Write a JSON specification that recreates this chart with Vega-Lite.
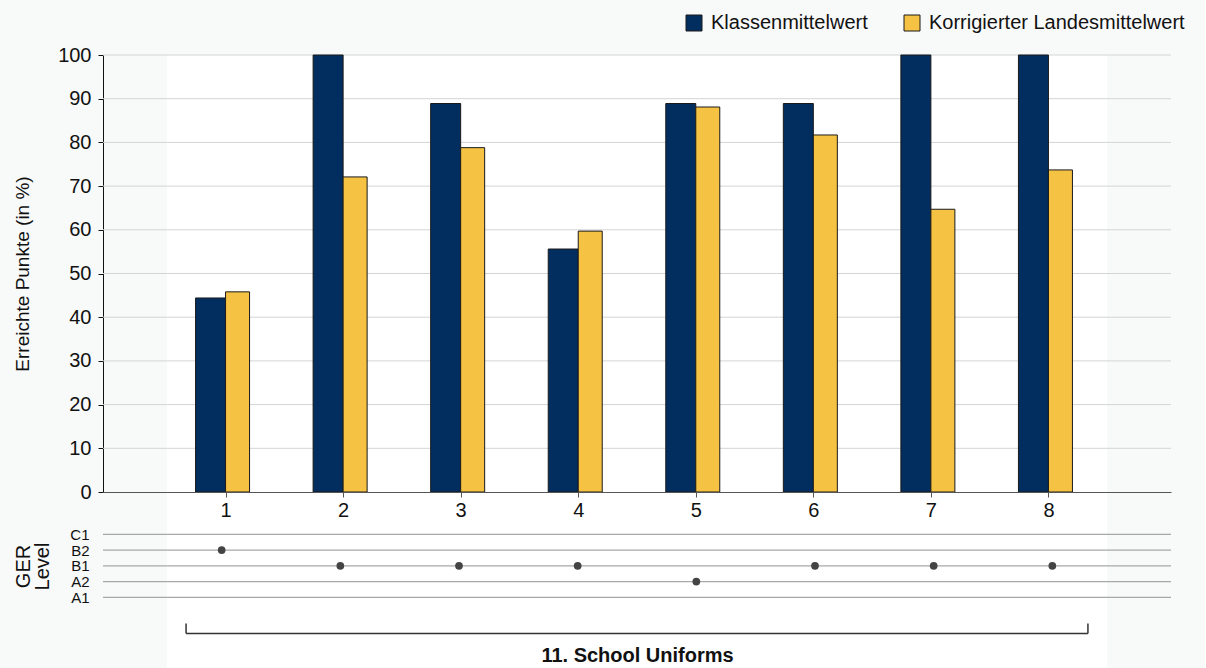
{
  "$schema": "https://vega.github.io/schema/vega-lite/v6.json",
  "background": "#f8f9f9",
  "padding": {"left": 13, "top": 13, "right": 20, "bottom": 0},
  "bounds": "flush",
  "spacing": 18.25,
  "config": {
    "font": "Liberation Sans",
    "view": {"stroke": null},
    "axis": {"labelColor": "#111", "titleColor": "#111", "titleFontWeight": "normal", "grid": false},
    "legend": {"labelColor": "#111"}
  },
  "datasets": {
    "scores": [
      {"q": 1, "series": "Klassenmittelwert", "score": 44.4},
      {"q": 1, "series": "Korrigierter Landesmittelwert", "score": 45.8},
      {"q": 2, "series": "Klassenmittelwert", "score": 100},
      {"q": 2, "series": "Korrigierter Landesmittelwert", "score": 72.1},
      {"q": 3, "series": "Klassenmittelwert", "score": 88.9},
      {"q": 3, "series": "Korrigierter Landesmittelwert", "score": 78.8},
      {"q": 4, "series": "Klassenmittelwert", "score": 55.6},
      {"q": 4, "series": "Korrigierter Landesmittelwert", "score": 59.7},
      {"q": 5, "series": "Klassenmittelwert", "score": 88.9},
      {"q": 5, "series": "Korrigierter Landesmittelwert", "score": 88.1},
      {"q": 6, "series": "Klassenmittelwert", "score": 88.9},
      {"q": 6, "series": "Korrigierter Landesmittelwert", "score": 81.7},
      {"q": 7, "series": "Klassenmittelwert", "score": 100},
      {"q": 7, "series": "Korrigierter Landesmittelwert", "score": 64.7},
      {"q": 8, "series": "Klassenmittelwert", "score": 100},
      {"q": 8, "series": "Korrigierter Landesmittelwert", "score": 73.7}
    ],
    "ger": [
      {"q": 1, "level": "B2"},
      {"q": 2, "level": "B1"},
      {"q": 3, "level": "B1"},
      {"q": 4, "level": "B1"},
      {"q": 5, "level": "A2"},
      {"q": 6, "level": "B1"},
      {"q": 7, "level": "B1"},
      {"q": 8, "level": "B1"}
    ],
    "levels": [
      {"level": "C1"}, {"level": "B2"}, {"level": "B1"}, {"level": "A2"}, {"level": "A1"}
    ],
    "grid": [
      {"score": 10}, {"score": 20}, {"score": 30}, {"score": 40}, {"score": 50},
      {"score": 60}, {"score": 70}, {"score": 80}, {"score": 90}, {"score": 100}
    ]
  },
  "vconcat": [
    {
      "width": 1068,
      "height": 437,
      "layer": [
        {
          "data": {"values": [{}]},
          "mark": {"type": "rect", "fill": "white"},
          "encoding": {
            "x": {"datum": 0.5, "type": "quantitative",
              "scale": {"domain": [0, 9], "nice": false, "zero": false},
              "axis": {"title": null, "values": [1, 2, 3, 4, 5, 6, 7, 8], "format": "d", "labelFontSize": 20, "tickSize": 5, "tickColor": "#555", "domainColor": "#555", "labelPadding": 3, "zindex": 1, "labelFlush": false}},
            "x2": {"datum": 8.5},
            "y": {"datum": 100, "type": "quantitative",
              "scale": {"domain": [0, 100], "nice": false, "zero": false},
              "axis": {"title": "Erreichte Punkte (in %)", "values": [0, 10, 20, 30, 40, 50, 60, 70, 80, 90, 100], "labelFontSize": 20, "titleFontSize": 19, "tickSize": 5, "tickColor": "#111", "domainColor": "#111", "labelPadding": 7, "titlePadding": 25}},
            "y2": {"datum": -40.2}
          }
        },
        {
          "data": {"name": "grid"},
          "mark": {"type": "rule", "color": "#d4d4d4", "strokeWidth": 1},
          "encoding": {"y": {"field": "score", "type": "quantitative"}}
        },
        {
          "data": {"name": "scores"},
          "transform": [{"filter": "datum.series === 'Klassenmittelwert'"}],
          "mark": {"type": "bar", "width": 30, "xOffset": -15, "stroke": "#1a1a1a", "strokeWidth": 1},
          "encoding": {
            "x": {"field": "q", "type": "quantitative"},
            "y": {"field": "score", "type": "quantitative"},
            "color": {"field": "series", "type": "nominal",
              "scale": {"domain": ["Klassenmittelwert", "Korrigierter Landesmittelwert"], "range": ["#022e5f", "#f5c244"]},
              "legend": {"title": null, "orient": "none", "direction": "horizontal", "legendX": 581, "legendY": -42, "symbolType": "square", "symbolSize": 256, "symbolStrokeColor": "#111", "symbolStrokeWidth": 1, "symbolOpacity": 1, "labelFontSize": 20, "labelOffset": 7, "labelLimit": 400, "columnPadding": 34, "padding": 0}}
          }
        },
        {
          "data": {"name": "scores"},
          "transform": [{"filter": "datum.series === 'Korrigierter Landesmittelwert'"}],
          "mark": {"type": "bar", "width": 24, "xOffset": 12, "stroke": "#1a1a1a", "strokeWidth": 1},
          "encoding": {
            "x": {"field": "q", "type": "quantitative"},
            "y": {"field": "score", "type": "quantitative"},
            "color": {"field": "series", "type": "nominal"}
          }
        }
      ]
    },
    {
      "width": 1068,
      "height": 94.5,
      "layer": [
        {
          "data": {"name": "levels"},
          "mark": {"type": "rule", "color": "#a8a8a8", "strokeWidth": 1.3},
          "encoding": {
            "y": {"field": "level", "type": "ordinal",
              "scale": {"type": "point", "domain": ["C1", "B2", "B1", "A2", "A1"], "padding": 1, "align": 0.763},
              "axis": {"title": ["GER", "Level"], "ticks": false, "domain": false, "labelFontSize": 15, "labelPadding": 14, "titleFontSize": 20, "titlePadding": 17, "titleLineHeight": 19, "titleY": 55.75}}
          }
        },
        {
          "data": {"name": "ger"},
          "mark": {"type": "circle", "color": "#444", "size": 60, "opacity": 1},
          "encoding": {
            "x": {"field": "q", "type": "quantitative", "scale": {"domain": [0, 9], "nice": false, "zero": false}, "axis": null},
            "y": {"field": "level", "type": "ordinal"}
          }
        }
      ]
    },
    {
      "width": 1068,
      "height": 10,
      "data": {"values": [{}]},
      "layer": [
        {
          "mark": {"type": "rule", "color": "#333", "strokeWidth": 1.5},
          "encoding": {
            "x": {"datum": 0.7, "type": "quantitative",
              "scale": {"domain": [0, 9], "nice": false, "zero": false},
              "axis": {"title": "11. School Uniforms", "labels": false, "ticks": false, "domain": false, "titleFontSize": 20, "titleFontWeight": "bold", "titlePadding": 12}},
            "x2": {"datum": 8.3},
            "y": {"datum": 0, "type": "quantitative", "scale": {"domain": [0, 1]}, "axis": null}
          }
        },
        {
          "mark": {"type": "rule", "color": "#333", "strokeWidth": 1.5},
          "encoding": {
            "x": {"datum": 0.7, "type": "quantitative"},
            "y": {"datum": 0, "type": "quantitative"},
            "y2": {"datum": 1}
          }
        },
        {
          "mark": {"type": "rule", "color": "#333", "strokeWidth": 1.5},
          "encoding": {
            "x": {"datum": 8.3, "type": "quantitative"},
            "y": {"datum": 0, "type": "quantitative"},
            "y2": {"datum": 1}
          }
        }
      ]
    }
  ]
}
